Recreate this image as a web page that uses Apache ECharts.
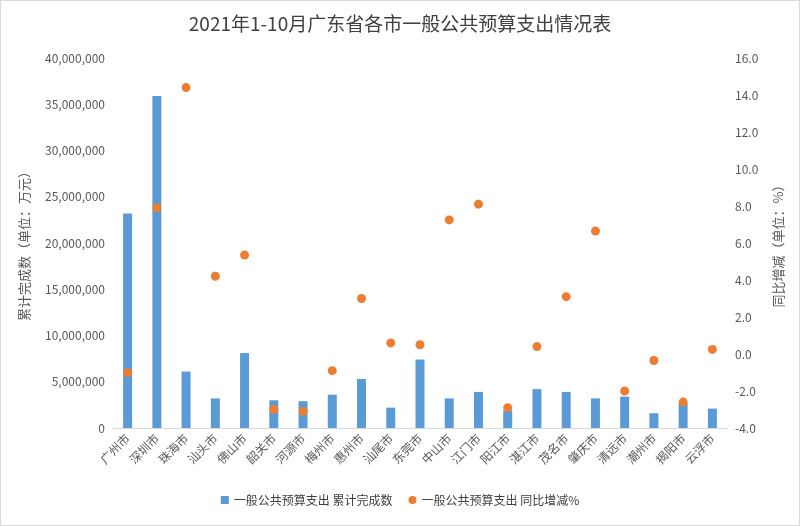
<!DOCTYPE html><html><head><meta charset="utf-8"><script src="https://cdn.jsdelivr.net/npm/echarts@6/dist/echarts.min.js"></script>
<style>body{margin:0}#c{width:798px;height:524px;border:1px solid #d9d9d9}</style></head><body><div id="c"></div><script>
const cities=['广州市','深圳市','珠海市','汕头市','佛山市','韶关市','河源市','梅州市','惠州市','汕尾市','东莞市','中山市','江门市','阳江市','湛江市','茂名市','肇庆市','清远市','潮州市','揭阳市','云浮市'];
const totals=[23200000,35900000,6100000,3200000,8100000,3000000,2900000,3600000,5300000,2200000,7400000,3200000,3900000,1900000,4200000,3900000,3200000,3400000,1600000,2700000,2100000];
const growth=[-1.0,7.9,14.4,4.2,5.35,-3.0,-3.1,-0.9,3.0,0.6,0.5,7.25,8.1,-2.9,0.4,3.1,6.65,-2.0,-0.35,-2.6,0.25];
const ff='"Noto Sans CJK SC","Noto Sans",sans-serif';
const c=echarts.init(document.getElementById('c'));
c.setOption({textStyle:{fontFamily:ff},
title:{text:'2021年1-10月广东省各市一般公共预算支出情况表',left:'center',top:8,textStyle:{fontSize:19,fontWeight:'normal',color:'#404040',fontFamily:ff}},
grid:{left:112,right:72,top:57,bottom:97},
legend:{bottom:14,itemGap:16,textStyle:{color:'#404040',fontSize:12},data:[{name:'一般公共预算支出 累计完成数',icon:'rect'},{name:'一般公共预算支出 同比增减%',icon:'circle'}],itemWidth:8,itemHeight:8},
xAxis:{type:'category',data:cities,axisTick:{show:false},axisLine:{lineStyle:{color:'#d9d9d9'}},axisLabel:{rotate:45,color:'#595959',fontSize:12,interval:0}},
yAxis:[{type:'value',min:0,max:40000000,interval:5000000,name:'累计完成数（单位：万元）',nameLocation:'middle',nameGap:82,nameTextStyle:{color:'#595959',fontSize:13},axisLabel:{color:'#595959',formatter:v=>v.toLocaleString('en-US')},splitLine:{show:false},axisLine:{show:false}},
{type:'value',min:-4,max:16,interval:2,name:'同比增减（单位：%）',nameLocation:'middle',nameGap:45,nameRotate:90,nameTextStyle:{color:'#595959',fontSize:13},axisLabel:{color:'#595959',formatter:v=>v.toFixed(1)},splitLine:{show:false},axisLine:{show:false}}],
series:[{name:'一般公共预算支出 累计完成数',type:'bar',data:totals,barWidth:9,itemStyle:{color:'#5b9bd5'}},
{name:'一般公共预算支出 同比增减%',type:'scatter',yAxisIndex:1,data:growth,symbolSize:9,itemStyle:{color:'#ed7d31',opacity:1}}]});
</script></body></html>
